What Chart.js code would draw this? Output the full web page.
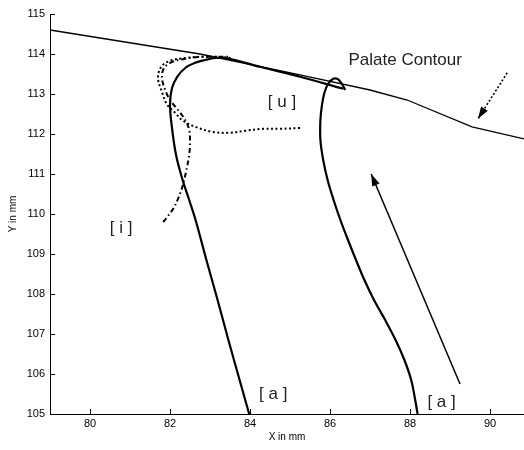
<!DOCTYPE html>
<html><head><meta charset="utf-8">
<script src="https://cdn.jsdelivr.net/npm/chart.js@4"></script>
<style>html,body{margin:0;padding:0;background:#fff}#wrap{width:524px;height:450px}</style>
</head><body><div id="wrap"><canvas id="c" width="524" height="450"></canvas></div>
<script>
// ---- data (mm) ----
const xTicks = [80, 82, 84, 86, 88, 90];
const yTicks = [105, 106, 107, 108, 109, 110, 111, 112, 113, 114, 115];

const palateX = [79.0, 82.75, 85.25, 87.0, 87.93, 89.55, 90.85];
const palateY = [114.6, 114.0, 113.48, 113.1, 112.85, 112.18, 111.88];

const aLeftX = [83.98, 83.74, 83.46, 83.19, 82.91, 82.64, 82.48, 82.3, 82.15, 82.05, 82.0, 82.05, 82.18, 82.38, 82.63, 82.88, 83.13, 83.38, 83.63, 84.25, 85.25, 86.33];
const aLeftY = [105.0, 105.85, 106.85, 107.85, 108.85, 109.85, 110.35, 110.9, 111.48, 112.15, 112.73, 113.15, 113.43, 113.65, 113.78, 113.85, 113.9, 113.9, 113.85, 113.68, 113.43, 113.13];

const aRightX = [88.19, 88.13, 88.03, 87.86, 87.64, 87.38, 87.1, 86.86, 86.65, 86.45, 86.26, 86.09, 85.94, 85.83, 85.76, 85.76, 85.8, 85.86, 85.95, 86.08, 86.18, 86.28, 86.38];
const aRightY = [105.0, 105.35, 105.85, 106.35, 106.85, 107.35, 107.85, 108.35, 108.85, 109.35, 109.85, 110.35, 110.85, 111.35, 111.85, 112.35, 112.73, 113.03, 113.25, 113.38, 113.38, 113.28, 113.1];

const uX = [85.25, 84.75, 84.33, 83.88, 83.5, 83.08, 82.63, 82.3, 82.13, 81.93, 81.8, 81.7, 81.78, 82.0, 82.38, 82.75, 83.2, 83.55];
const uY = [112.15, 112.13, 112.13, 112.08, 112.03, 112.05, 112.18, 112.35, 112.53, 112.73, 113.05, 113.4, 113.68, 113.83, 113.9, 113.93, 113.93, 113.9];

const iX = [81.83, 81.95, 82.08, 82.2, 82.3, 82.4, 82.48, 82.5, 82.48, 82.38, 82.2, 82.0, 81.88, 81.8, 81.85, 82.05, 82.38, 82.75, 83.13, 83.45];
const iY = [109.8, 109.95, 110.13, 110.38, 110.65, 111.05, 111.48, 111.8, 112.1, 112.35, 112.6, 112.85, 113.1, 113.4, 113.65, 113.8, 113.88, 113.93, 113.93, 113.93];

const arrowSolidX = [89.25, 87.03];
const arrowSolidY = [105.75, 111.0];
const arrowDotX = [90.43, 89.7];
const arrowDotY = [113.53, 112.38];

const labelTexts = ['Palate Contour', '[ u ]', '[ i ]', '[ a ]', '[ a ]'];
const labelX = [87.88, 84.8, 80.78, 84.58, 88.79];
const labelY = [113.85, 112.78, 109.63, 105.48, 105.3];

// ---- helpers ----
const pts = (xs, ys) => xs.map((v, i) => ({x: v, y: ys[i]}));
const FONT = '"Liberation Sans", Arial, sans-serif';

const decor = {
  id: 'decor',
  afterDraw(chart) {
    const {ctx, scales: {x, y}} = chart;
    ctx.save();
    ctx.strokeStyle = '#000';
    ctx.lineWidth = 1;
    ctx.beginPath();
    xTicks.forEach(v => {
      const px = Math.round(x.getPixelForValue(v)) + 0.5;
      ctx.moveTo(px, y.bottom); ctx.lineTo(px, y.bottom - 5);
    });
    yTicks.forEach(v => {
      const py = Math.round(y.getPixelForValue(v)) + 0.5;
      ctx.moveTo(x.left, py); ctx.lineTo(x.left + 5, py);
    });
    ctx.stroke();
    // arrowheads
    [[arrowSolidX, arrowSolidY], [arrowDotX, arrowDotY]].forEach(([ax, ay]) => {
      const x0 = x.getPixelForValue(ax[0]), y0 = y.getPixelForValue(ay[0]);
      const x1 = x.getPixelForValue(ax[1]), y1 = y.getPixelForValue(ay[1]);
      const a = Math.atan2(y1 - y0, x1 - x0);
      const L = 12, W = 4;
      const bx = x1 - L * Math.cos(a), by = y1 - L * Math.sin(a);
      ctx.fillStyle = '#000';
      ctx.beginPath();
      ctx.moveTo(x1, y1);
      ctx.lineTo(bx + W * Math.sin(a), by - W * Math.cos(a));
      ctx.lineTo(bx - W * Math.sin(a), by + W * Math.cos(a));
      ctx.closePath();
      ctx.fill();
    });
    // labels
    ctx.fillStyle = '#222';
    ctx.textAlign = 'center';
    ctx.textBaseline = 'middle';
    ctx.font = '17px ' + FONT;
    labelTexts.forEach((t, i) => {
      ctx.fillText(t, x.getPixelForValue(labelX[i]), y.getPixelForValue(labelY[i]));
    });
    ctx.restore();
  }
};

const base = {showLine: true, pointRadius: 0, fill: false, borderColor: '#000', borderCapStyle: 'butt'};

new Chart(document.getElementById('c'), {
  type: 'scatter',
  data: {
    datasets: [
      {...base, data: pts(palateX, palateY), borderWidth: 1.3, tension: 0},
      {...base, data: pts(aLeftX, aLeftY), borderWidth: 2.2, tension: 0.35},
      {...base, data: pts(aRightX, aRightY), borderWidth: 2.2, tension: 0.35},
      {...base, data: pts(uX, uY), borderWidth: 2, borderDash: [2, 2.5], tension: 0.35},
      {...base, data: pts(iX, iY), borderWidth: 2, borderDash: [5, 3, 1.5, 3], tension: 0.35},
      {...base, data: pts(arrowSolidX, arrowSolidY), borderWidth: 1.5, tension: 0},
      {...base, data: pts(arrowDotX, arrowDotY), borderWidth: 1.6, borderDash: [2, 2], tension: 0}
    ]
  },
  options: {
    responsive: false,
    animation: false,
    devicePixelRatio: 1,
    layout: {padding: {top: 14, right: 0, left: 0, bottom: 0}},
    plugins: {legend: {display: false}, tooltip: {enabled: false}},
    scales: {
      x: {
        type: 'linear', min: 79, max: 90.85,
        afterFit: s => { s.height = 36; },
        grid: {display: false, drawTicks: false},
        border: {display: true, color: '#000', width: 1},
        ticks: {stepSize: 2, includeBounds: false, padding: 3, color: '#000', font: {family: FONT, size: 11}},
        title: {display: true, text: 'X in mm', color: '#000', font: {family: FONT, size: 10}, padding: {top: 0, bottom: 7}}
      },
      y: {
        type: 'linear', min: 105, max: 115,
        afterFit: s => { s.width = 50; },
        grid: {display: false, drawTicks: false},
        border: {display: true, color: '#000', width: 1},
        ticks: {stepSize: 1, includeBounds: false, padding: 5, color: '#000', font: {family: FONT, size: 11}},
        title: {display: true, text: 'Y in mm', color: '#000', font: {family: FONT, size: 10}, padding: {top: 7, bottom: 0}}
      }
    }
  },
  plugins: [decor]
});
</script></body></html>
